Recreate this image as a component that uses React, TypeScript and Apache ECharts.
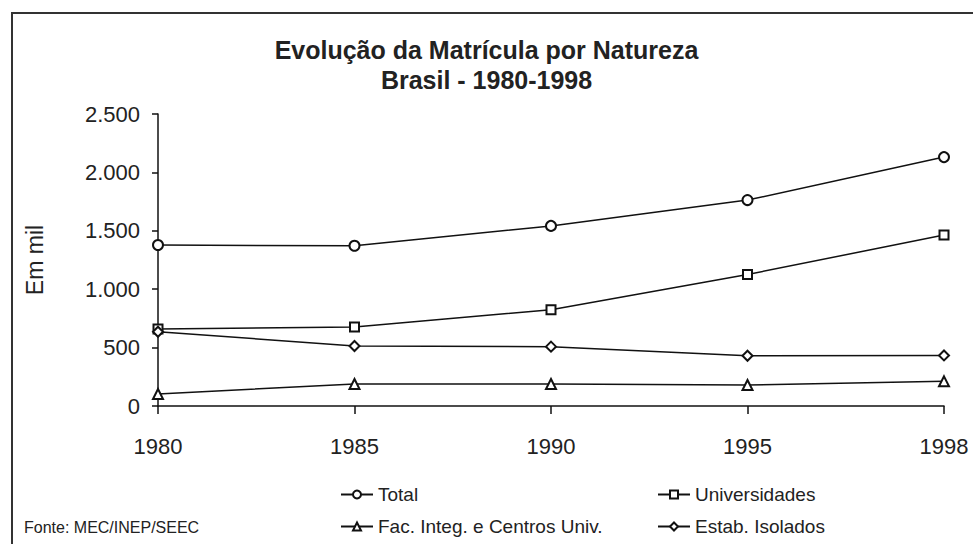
import React, { useEffect, useRef } from "react";
import * as echarts from "echarts";

const years = ["1980", "1985", "1990", "1995", "1998"];
const total = [1378, 1372, 1542, 1763, 2131];
const universidades = [659, 676, 824, 1126, 1464];
const facInteg = [103, 188, 188, 180, 211];
const estabIsolados = [636, 514, 508, 430, 433];

const titleLine1 = "Evolução da Matrícula por Natureza";
const titleLine2 = "Brasil - 1980-1998";
const yAxisName = "Em mil";
const sourceNote = "Fonte: MEC/INEP/SEEC";

const FONT = "'Liberation Sans', Arial, Helvetica, sans-serif";
const INK = "#111";
const TEXT = "#222";

function fmt(v: number): string {
  return String(v).replace(/\B(?=(\d{3})+(?!\d))/g, ".");
}

export default function App() {
  const ref = useRef<HTMLDivElement>(null);
  useEffect(() => {
    if (!ref.current) return;
    const chart = echarts.init(ref.current, undefined, { renderer: "svg" });
    const mkSeries = (name: string, data: number[], symbol: string, size: number) => ({
      name,
      type: "line",
      data,
      symbol,
      symbolSize: size,
      showSymbol: true,
      lineStyle: { color: INK, width: 1.5 },
      itemStyle: { color: INK, borderColor: INK, borderWidth: 1.5 },
      emphasis: { disabled: true },
    });
    const legendBase = {
      itemWidth: 32,
      itemHeight: 10,
      padding: 0,
      textStyle: { fontFamily: FONT, fontSize: 19, color: TEXT },
      selectedMode: false,
    };
    chart.setOption({
      animation: false,
      backgroundColor: "#fff",
      textStyle: { fontFamily: FONT },
      title: [
        {
          text: titleLine1,
          left: "center",
          top: 32,
          textStyle: { fontFamily: FONT, fontSize: 25, fontWeight: "bold", color: TEXT },
        },
        {
          text: titleLine2,
          left: "center",
          top: 62,
          textStyle: { fontFamily: FONT, fontSize: 25, fontWeight: "bold", color: TEXT },
        },
      ],
      legend: [
        { ...legendBase, left: 340, top: 485, data: ["Total"] },
        { ...legendBase, left: 657, top: 485, data: ["Universidades"] },
        { ...legendBase, left: 340, top: 517, data: ["Fac. Integ. e Centros Univ."] },
        { ...legendBase, left: 657, top: 517, data: ["Estab. Isolados"] },
      ],
      grid: { left: 158, right: 29, top: 114, bottom: 138, containLabel: false },
      xAxis: {
        type: "category",
        data: years,
        boundaryGap: false,
        axisLine: { show: true, lineStyle: { color: INK, width: 1.5 } },
        axisTick: { show: true, length: 8, lineStyle: { color: INK, width: 1.5 } },
        axisLabel: { fontFamily: FONT, fontSize: 22, color: TEXT, margin: 29 },
        splitLine: { show: false },
      },
      yAxis: {
        type: "value",
        min: 0,
        max: 2500,
        interval: 500,
        name: yAxisName,
        nameLocation: "middle",
        nameRotate: 90,
        nameGap: 112,
        nameTextStyle: { fontFamily: FONT, fontSize: 23, color: TEXT },
        axisLine: { show: true, lineStyle: { color: INK, width: 1.5 } },
        axisTick: { show: true, length: 6, lineStyle: { color: INK, width: 1.5 } },
        axisLabel: { fontFamily: FONT, fontSize: 22, color: TEXT, margin: 18, formatter: (v: number) => fmt(v) },
        splitLine: { show: false },
      },
      series: [
        mkSeries("Total", total, "emptyCircle", 10),
        mkSeries("Universidades", universidades, "emptyRect", 9),
        mkSeries("Fac. Integ. e Centros Univ.", facInteg, "emptyTriangle", 10),
        mkSeries("Estab. Isolados", estabIsolados, "emptyDiamond", 10),
      ],
      graphic: [
        {
          type: "rect",
          silent: true,
          shape: { x: 12, y: 13, width: 1000, height: 600 },
          style: { fill: "none", stroke: "#333", lineWidth: 2 },
          z: 100,
        },
        {
          type: "text",
          left: 24,
          top: 519,
          style: { text: sourceNote, fontFamily: FONT, fontSize: 16, fill: TEXT },
        },
      ],
    });
    return () => chart.dispose();
  }, []);
  return (
    <div
      ref={ref}
      style={{ position: "absolute", left: 0, top: 0, width: 973, height: 544, background: "#fff" }}
    />
  );
}
